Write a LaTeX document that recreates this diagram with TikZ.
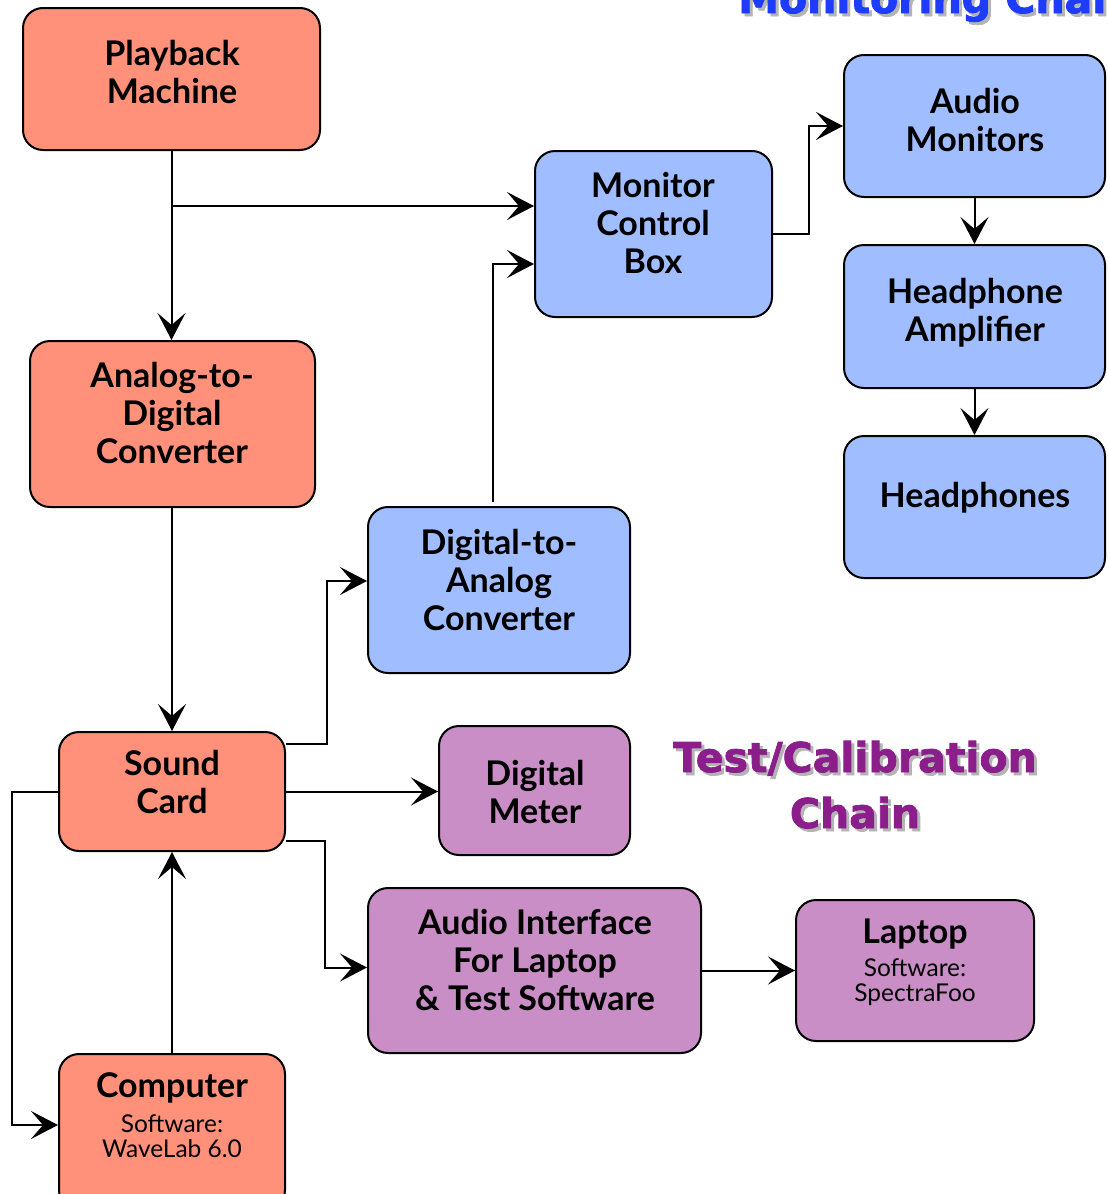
\documentclass[tikz,border=0pt]{standalone}
\usepackage{fontspec}
\setmainfont{Lato}
\newfontfamily\headfont{DejaVu Sans}[BoldFeatures={FakeBold=2}]
\usetikzlibrary{arrows.meta,calc}
\definecolor{salmon}{RGB}{255,145,122}
\definecolor{skyb}{RGB}{160,190,255}
\definecolor{lilac}{RGB}{202,142,198}
\definecolor{titleblue}{RGB}{30,60,255}
\definecolor{titlepurple}{RGB}{140,30,140}
\definecolor{shade}{RGB}{180,180,180}
\begin{document}
\begin{tikzpicture}[x=1pt,y=-1pt,
 box/.style={draw=black, line width=2pt, rounded corners=20pt, inner sep=0pt},
 lbl/.style={font=\fontsize{34}{38}\selectfont\bfseries, align=center, inner sep=0pt},
 sub/.style={font=\fontsize{24.5}{25.5}\selectfont, align=center, inner sep=0pt},
 arr/.style={line width=2pt, -{Stealth[length=27pt,width=28pt,inset=12pt]}},
 ttl/.style={font=\headfont\fontsize{41}{56}\selectfont\bfseries, inner sep=0pt}]
\useasboundingbox (0,0) rectangle (1108,1194);
\clip (0,0) rectangle (1108,1194);

% titles
\node[ttl, text=shade, anchor=base west] (t1s) at (741,16) {Monitoring Chain};
\node[ttl, text=titleblue, anchor=base west] (t1) at (738,13) {Monitoring Chain};
\node[ttl, text=shade, anchor=base] (t2s) at (858,775) {Test/Calibration};
\node[ttl, text=titlepurple, anchor=base] (t2) at (855,772) {Test/Calibration};
\node[ttl, text=shade, anchor=base] (t3s) at (858,831) {Chain};
\node[ttl, text=titlepurple, anchor=base] (t3) at (855,828) {Chain};

% boxes
\node[box, fill=salmon, minimum width=297, minimum height=142] (pb) at (171.5,79) {};
\node[box, fill=salmon, minimum width=285, minimum height=166] (adc) at (172.5,424) {};
\node[box, fill=salmon, minimum width=226, minimum height=119] (sc) at (172,791.5) {};
\node[box, fill=salmon, minimum width=226, minimum height=156] (comp) at (172,1132) {};
\node[box, fill=skyb, minimum width=237, minimum height=166] (mcb) at (653.5,234) {};
\node[box, fill=skyb, minimum width=261, minimum height=142] (am) at (974.5,126) {};
\node[box, fill=skyb, minimum width=261, minimum height=143] (ha) at (974.5,316.5) {};
\node[box, fill=skyb, minimum width=261, minimum height=142] (hp) at (974.5,507) {};
\node[box, fill=skyb, minimum width=262, minimum height=166] (dac) at (499,590) {};
\node[box, fill=lilac, minimum width=191, minimum height=129] (dm) at (534.5,790.5) {};
\node[box, fill=lilac, minimum width=333, minimum height=165] (ai) at (534.5,970.5) {};
\node[box, fill=lilac, minimum width=238, minimum height=141] (lt) at (915,970.5) {};

% labels
\node[lbl] (pbt) at (172,72) {Playback\\Machine};
\node[lbl] (adct) at (172,413) {Analog-to-\\Digital\\Converter};
\node[lbl] (sct) at (172,782) {Sound\\Card};
\node[lbl] (compt) at (172,1088) {Computer};
\node[sub] (comps) at (172,1136) {Software:\\WaveLab 6.0};
\node[lbl] (mcbt) at (653,223) {Monitor\\Control\\Box};
\node[lbl] (amt) at (975,120) {Audio\\Monitors};
\node[lbl] (hat) at (975,313) {Headphone\\Amplifier};
\node[lbl] (hpt) at (975,498) {Headphones};
\node[lbl] (dact) at (499,580) {Digital-to-\\Analog\\Converter};
\node[lbl] (dmt) at (535,792) {Digital\\Meter};
\node[lbl] (ait) at (535,960) {Audio Interface\\For Laptop\\\& Test Software};
\node[lbl] (ltt) at (915,934) {Laptop};
\node[sub] (lts) at (915,982) {Software:\\SpectraFoo};

% connectors
\coordinate (j1) at (172,206);
\draw[arr] (pb.south) -- (pb.south |- adc.north);
\draw[arr] (j1) -- (mcb.west |- j1);
\draw[arr] (adc.south -| sc.north) -- (sc.north);
\draw[arr] ($(sc.north east)+(0,13)$) -- ++(41,0) |- ($(dac.west)+(0,-9)$);
\draw[arr] (sc.east) -- (sc.east -| dm.west);
\draw[arr] ($(sc.south east)+(0,-11)$) -- ++(39,0) |- ($(ai.west)+(0,-3)$);
\draw[arr] (sc.west) -- ++(-46,0) |- ($(comp.north west)+(0,72)$);
\draw[arr] (comp.north) -- (sc.south);
\draw[arr] ($(dac.north)+(-6,-4)$) |- ($(mcb.west)+(0,30)$);
\draw[arr] (mcb.east) -- ++(36,0) |- (am.west);
\draw[arr] (am.south) -- (ha.north);
\draw[arr] (ha.south) -- (hp.north);
\draw[arr] (ai.east) -- (lt.west);
\end{tikzpicture}
\end{document}
